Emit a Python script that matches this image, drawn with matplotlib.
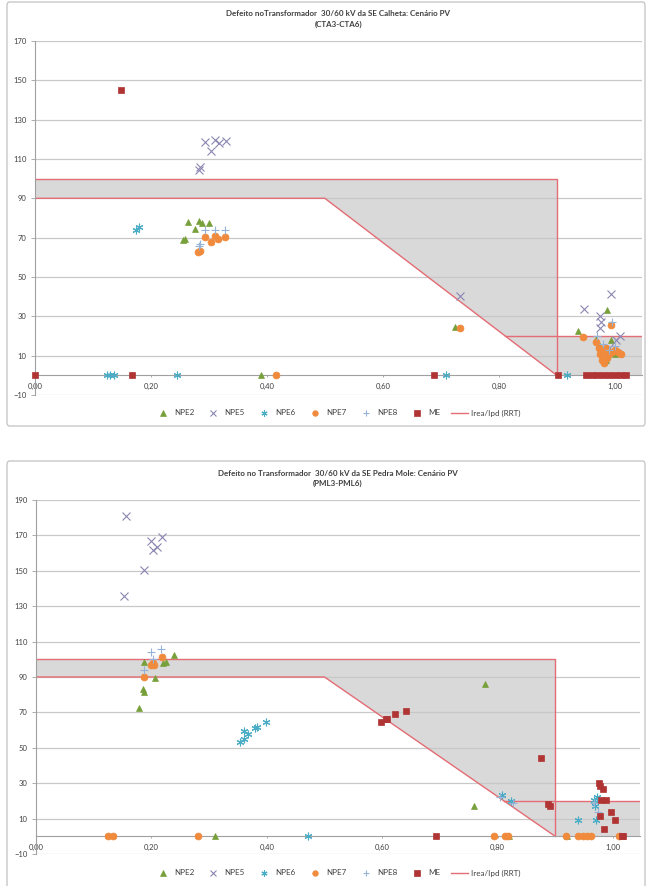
import numpy as np
import matplotlib
matplotlib.use("Agg")
import matplotlib.pyplot as plt
from matplotlib.patches import FancyBboxPatch
from matplotlib.ticker import FuncFormatter

plt.rcParams['font.family'] = ['Lato', 'DejaVu Sans']

# --- SE Calheta (CTA3-CTA6) ---
npe2_x_c = [0.255, 0.258, 0.264, 0.276, 0.283, 0.288, 0.300, 0.390, 0.724, 0.937, 0.987, 0.993, 0.967, 0.998, 0.975, 1.000, 0.985]
npe2_y_c = [68.9, 69.5, 78.0, 74.6, 78.6, 77.4, 77.4, 0, 24.5, 22.4, 33.4, 18.0, 18.4, 13.0, 15.0, 11.0, 8.0]
npe5_x_c = [0.283, 0.285, 0.293, 0.303, 0.311, 0.317, 0.329, 0.733, 0.947, 0.994, 0.974, 0.976, 0.975, 1.009, 1.003, 0.990, 0.985]
npe5_y_c = [104.5, 106, 118.4, 114, 119.6, 118, 119, 40.2, 33.8, 41.4, 30, 27, 24, 20, 18, 14, 12]
npe6_x_c = [0.174, 0.180, 0.124, 0.130, 0.136, 0.245, 0.709, 0.917]
npe6_y_c = [74, 75.5, 0, 0, 0, 0, 0, 0]
npe7_x_c = [0.282, 0.285, 0.294, 0.304, 0.311, 0.316, 0.328, 0.416, 0.733, 0.946, 0.994, 0.968, 0.972,
            0.975, 0.978, 0.982, 0.986, 0.990, 0.995, 1.000, 1.005, 1.010, 0.980, 0.985]
npe7_y_c = [62.5, 63.2, 70.3, 68, 71, 69.5, 70.3, 0, 24, 19.4, 25.6, 17, 14,
            11, 8, 6.5, 9, 11, 12, 13, 12, 11, 12, 14]
npe8_x_c = [0.283, 0.285, 0.293, 0.311, 0.328, 0.980, 0.990, 1.000, 0.970, 0.995]
npe8_y_c = [66, 67, 73.7, 74, 73.8, 16, 13, 15, 20, 27]
me_x_c = [0, 0.148, 0.168, 0.689, 0.902, 0.950, 0.960, 0.970, 0.980, 0.990, 1.000, 1.010, 1.020]
me_y_c = [0, 145, 0, 0, 0, 0, 0, 0, 0, 0, 0, 0, 0]

# --- SE Pedra Mole (PML3-PML6) ---
npe2_x_p = [0.179, 0.185, 0.188, 0.188, 0.207, 0.220, 0.225, 0.239, 0.310, 0.779, 0.760, 0.820, 0.920]
npe2_y_p = [72.6, 83, 81.5, 98.5, 89.7, 98, 98.7, 102.7, 0, 86.1, 17.2, 0, 0]
npe5_x_p = [0.156, 0.152, 0.187, 0.200, 0.202, 0.210, 0.218]
npe5_y_p = [181, 135.5, 150.4, 167, 162, 163.5, 169.3]
npe6_x_p = [0.354, 0.360, 0.361, 0.367, 0.380, 0.383, 0.398, 0.472, 0.807, 0.824, 0.940, 0.967, 0.969, 0.970, 0.972]
npe6_y_p = [53.5, 55, 59.5, 58, 61, 62, 64.5, 0, 23.4, 20, 9.3, 20.3, 17, 9, 22]
npe7_x_p = [0.187, 0.200, 0.205, 0.218, 0.202, 0.125, 0.133, 0.280, 0.794, 0.813, 0.818, 0.918,
            0.940, 0.948, 0.955, 0.962, 1.010]
npe7_y_p = [90, 97, 96.5, 101.2, 98, 0, 0, 0, 0, 0, 0, 0, 0, 0, 0, 0, 0]
npe8_x_p = [0.187, 0.200, 0.217, 0.203, 0.805, 0.826, 0.968, 0.975]
npe8_y_p = [94, 104, 105.9, 100, 22, 19, 19, 14]
me_x_p = [0.598, 0.606, 0.609, 0.623, 0.641, 0.876, 0.888, 0.891, 0.693, 0.976, 0.978, 0.983,
          0.980, 0.988, 0.977, 0.996, 1.004, 0.985, 1.015, 1.018]
me_y_p = [64.6, 66, 66.5, 68.9, 70.8, 44.2, 18.3, 17.3, 0, 30, 28.5, 27,
          20.3, 20.3, 11.4, 13.7, 9, 4, 0, 0]

# Irea/Ipd (RRT) envelope
rrt_up_x = [0, 0.9, 0.9]
rrt_up_y = [100, 100, 0]
rrt_lo_x = [0, 0.5, 0.9]
rrt_lo_y = [90, 90, 0]
rrt_tail_x = [0.811, 1.047]
rrt_tail_y = [20, 20]

series_names = ['NPE2', 'NPE5', 'NPE6', 'NPE7', 'NPE8', 'ME']
styles = {
    'NPE2': dict(marker='^', color='#77A03A', ms=5, mew=0.5),
    'NPE5': dict(marker='x', color='#8C86B2', ms=5.5, mew=0.8),
    'NPE6': dict(marker=(6, 2, 0), color='#4BACC6', ms=5.5, mew=0.8),
    'NPE7': dict(marker='o', color='#F08A3C', ms=5, mew=0.5),
    'NPE8': dict(marker='+', color='#95B3D7', ms=5.5, mew=0.8),
    'ME': dict(marker='s', color='#B03434', ms=5, mew=0.5),
}
rrt_color = '#E46C74'

fig = plt.figure(figsize=(6.51, 8.86), dpi=100)
W, H = 651, 886

# chart borders
for y0, y1 in [(2, 426), (461, 900)]:
    box = FancyBboxPatch((7 / W, 1 - y1 / H), 638 / W, (y1 - y0) / H,
                         boxstyle="round,pad=0,rounding_size=0.004",
                         transform=fig.transFigure, fc='none', ec='#C8C8C8', lw=1.0, zorder=-1)
    fig.patches.append(box)


def draw_chart(rect, ymax, data, title):
    ax = fig.add_axes(rect)
    ax.set_xlim(0, 1.047)
    ax.set_ylim(-10, ymax)
    ax.set_yticks(np.arange(-10, ymax + 1, 20))
    ax.set_xticks([0, 0.2, 0.4, 0.6, 0.8, 1.0])
    ax.xaxis.set_major_formatter(FuncFormatter(lambda v, p: f"{v:.2f}".replace('.', ',')))
    ax.set_axisbelow(True)
    ax.yaxis.grid(True, color='#C8C8C8', lw=0.9)
    ax.patch.set_alpha(0)
    for s in ['top', 'right']:
        ax.spines[s].set_visible(False)
    ax.spines['bottom'].set_position(('data', 0))
    ax.spines['bottom'].set_color('#A0A0A0')
    ax.spines['left'].set_color('#A0A0A0')
    ax.tick_params(axis='y', length=3, width=0.6, color='#A0A0A0', pad=3, labelsize=5.5, labelcolor='#404040')
    ax.tick_params(axis='x', length=1.5, width=0.6, color='#A0A0A0', pad=4, labelsize=5.5, labelcolor='#404040')

    # shaded RRT region
    xs = np.linspace(0, 0.9, 400)
    lo = np.interp(xs, rrt_lo_x, rrt_lo_y)
    ax.fill_between(xs, lo, 100, color='#D9D9D9', lw=0, zorder=0.2)
    ax.fill_between([0.9, 1.047], 0, 20, color='#D9D9D9', lw=0, zorder=0.2)

    rrt, = ax.plot(rrt_up_x, rrt_up_y, color=rrt_color, lw=1.0, zorder=2, label='Irea/Ipd (RRT)')
    ax.plot(rrt_lo_x, rrt_lo_y, color=rrt_color, lw=1.0, zorder=2)
    ax.plot(rrt_tail_x, rrt_tail_y, color=rrt_color, lw=1.0, zorder=2)

    handles = []
    for name in series_names:
        x, y = data[name]
        st = styles[name]
        h, = ax.plot(x, y, ls='none', marker=st['marker'], color=st['color'], ms=st['ms'],
                     mew=st['mew'], zorder=3, clip_on=False, label=name)
        handles.append(h)
    handles.append(rrt)

    cx = (rect[0] + rect[2] / 2)
    top = rect[1] + rect[3]
    fig.text(cx, top + 27 / H, title[0], ha='center', va='center',
             fontsize=5.8, fontweight='bold', color='#404040')
    fig.text(cx, top + 17 / H, title[1], ha='center', va='center',
             fontsize=5.8, fontweight='bold', color='#404040')
    return ax, handles


ax1, h1 = draw_chart([35 / W, 1 - 395 / H, 607 / W, 354 / H], 170,
                     {'NPE2': (npe2_x_c, npe2_y_c), 'NPE5': (npe5_x_c, npe5_y_c),
                      'NPE6': (npe6_x_c, npe6_y_c), 'NPE7': (npe7_x_c, npe7_y_c),
                      'NPE8': (npe8_x_c, npe8_y_c), 'ME': (me_x_c, me_y_c)},
                     ("Defeito noTransformador  30/60 kV da SE Calheta: Cenário PV", "(CTA3-CTA6)"))
ax2, h2 = draw_chart([36 / W, 1 - 854 / H, 604 / W, 354 / H], 190,
                     {'NPE2': (npe2_x_p, npe2_y_p), 'NPE5': (npe5_x_p, npe5_y_p),
                      'NPE6': (npe6_x_p, npe6_y_p), 'NPE7': (npe7_x_p, npe7_y_p),
                      'NPE8': (npe8_x_p, npe8_y_p), 'ME': (me_x_p, me_y_p)},
                     ("Defeito no Transformador  30/60 kV da SE Pedra Mole: Cenário PV", "(PML3-PML6)"))

for handles, ypix in [(h1, 413), (h2, 873)]:
    fig.legend(handles=handles, labels=[h.get_label() for h in handles], loc='center',
               bbox_to_anchor=(337 / W, 1 - ypix / H), ncol=7, frameon=False, fontsize=5.8,
               handlelength=2.2, handletextpad=0.3, columnspacing=1.3, markerscale=0.8,
               labelcolor='#404040')

fig.savefig('out.png', dpi=100)
